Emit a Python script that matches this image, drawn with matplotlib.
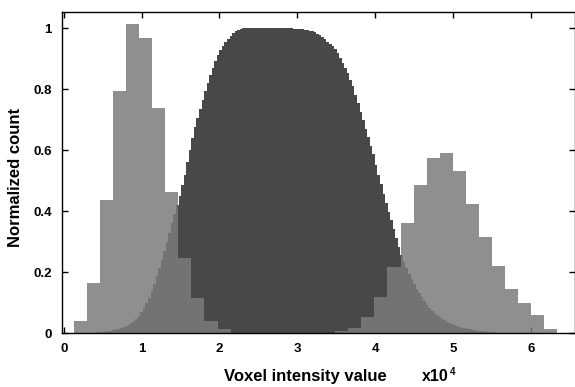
import numpy as np
import matplotlib
matplotlib.use("Agg")
import matplotlib.pyplot as plt

plt.rcParams["font.family"] = ["Liberation Sans", "DejaVu Sans"]
plt.rcParams["font.weight"] = "bold"

# fine histogram (dark), x in units of 1e4, bins start at index 12
FINE_WIDTH = 0.032768
FINE_FIRST = 12
fine_counts = [
    0.002, 0.003, 0.004, 0.005, 0.006, 0.008, 0.009, 0.011, 0.013, 0.015,
    0.017, 0.020, 0.024, 0.028, 0.033, 0.039, 0.047, 0.058, 0.070, 0.083,
    0.098, 0.117, 0.138, 0.162, 0.187, 0.213, 0.241, 0.270, 0.300, 0.330,
    0.360, 0.390, 0.420, 0.450, 0.485, 0.520, 0.562, 0.601, 0.640, 0.675,
    0.705, 0.735, 0.765, 0.795, 0.820, 0.845, 0.870, 0.893, 0.912, 0.927,
    0.941, 0.954, 0.965, 0.974, 0.983, 0.990, 0.995, 0.998, 1.000, 1.000,
    1.000, 1.000, 1.000, 1.000, 1.000, 1.000, 1.000, 1.000, 1.000, 1.000,
    1.000, 1.000, 1.000, 1.000, 1.000, 1.000, 1.000, 0.999, 0.998, 0.998,
    0.997, 0.996, 0.995, 0.994, 0.992, 0.990, 0.987, 0.982, 0.977, 0.970,
    0.963, 0.955, 0.947, 0.940, 0.932, 0.918, 0.903, 0.887, 0.870, 0.853,
    0.831, 0.809, 0.782, 0.754, 0.725, 0.698, 0.670, 0.643, 0.615, 0.587,
    0.553, 0.520, 0.488, 0.458, 0.427, 0.397, 0.370, 0.342, 0.313, 0.284,
    0.255, 0.235, 0.213, 0.195, 0.178, 0.161, 0.146, 0.132, 0.118, 0.105,
    0.093, 0.083, 0.074, 0.066, 0.059, 0.053, 0.047, 0.042, 0.037, 0.033,
    0.030, 0.027, 0.024, 0.021, 0.019, 0.017, 0.015, 0.013, 0.012, 0.010,
    0.009, 0.008, 0.007, 0.006, 0.005, 0.004, 0.003, 0.002, 0.002, 0.001,
    0.001,
]

# coarse histogram (light, two peaks)
COARSE_START = 0.127
COARSE_WIDTH = 0.168
coarse_counts = [
    0.040, 0.166, 0.437, 0.794, 1.014, 0.968, 0.738, 0.463, 0.248, 0.115,
    0.041, 0.013, 0.0, 0.0, 0.0, 0.0, 0.0, 0.0, 0.0, 0.0,
    0.006, 0.019, 0.054, 0.118, 0.218, 0.362, 0.487, 0.575, 0.590, 0.532,
    0.424, 0.317, 0.222, 0.145, 0.098, 0.060, 0.014,
]

xticks = [0, 1, 2, 3, 4, 5, 6]
yticks = [0, 0.2, 0.4, 0.6, 0.8, 1.0]
ytick_labels = ["0", "0.2", "0.4", "0.6", "0.8", "1"]

fine_edges = (FINE_FIRST + np.arange(len(fine_counts) + 1)) * FINE_WIDTH
coarse_edges = COARSE_START + np.arange(len(coarse_counts) + 1) * COARSE_WIDTH

fig = plt.figure(figsize=(5.75, 3.87), dpi=100)
ax = fig.add_axes([61.5 / 575, 1 - 333.3 / 387, 513 / 575, 321.6 / 387])

ax.stairs(fine_counts, fine_edges, fill=True, color="#484848", zorder=2)
ax.stairs(coarse_counts, coarse_edges, fill=True, color="#7b7b7b",
          alpha=0.85, zorder=3)

ax.set_xlim(-0.03, 6.563)
ax.set_ylim(0, 1.054)
ax.set_xticks(xticks)
ax.set_xticklabels([str(t) for t in xticks])
ax.set_yticks(yticks)
ax.set_yticklabels(ytick_labels)
ax.tick_params(direction="in", top=True, right=True, length=4, width=1,
               labelsize=9.5, pad=7)
for lab in ax.get_xticklabels() + ax.get_yticklabels():
    lab.set_fontweight("bold")
for sp in ax.spines.values():
    sp.set_linewidth(1)
    sp.set_zorder(5)

ax.set_xlabel("Voxel intensity value", fontsize=12, fontweight="bold")
ax.xaxis.set_label_coords(0.4756, -0.133)
ax.xaxis.label.set_va("center")
ax.set_ylabel("Normalized count", fontsize=12, fontweight="bold")
ax.yaxis.set_label_coords(-0.0906, 0.4845)
ax.yaxis.label.set_va("center")

ax.text(0.7025, -0.133, "x10", transform=ax.transAxes, fontsize=11.5,
        fontweight="bold", ha="left", va="center")
ax.text(0.7565, -0.119, "4", transform=ax.transAxes, fontsize=7,
        fontweight="bold", ha="left", va="center")

fig.savefig("out.png", dpi=100)
